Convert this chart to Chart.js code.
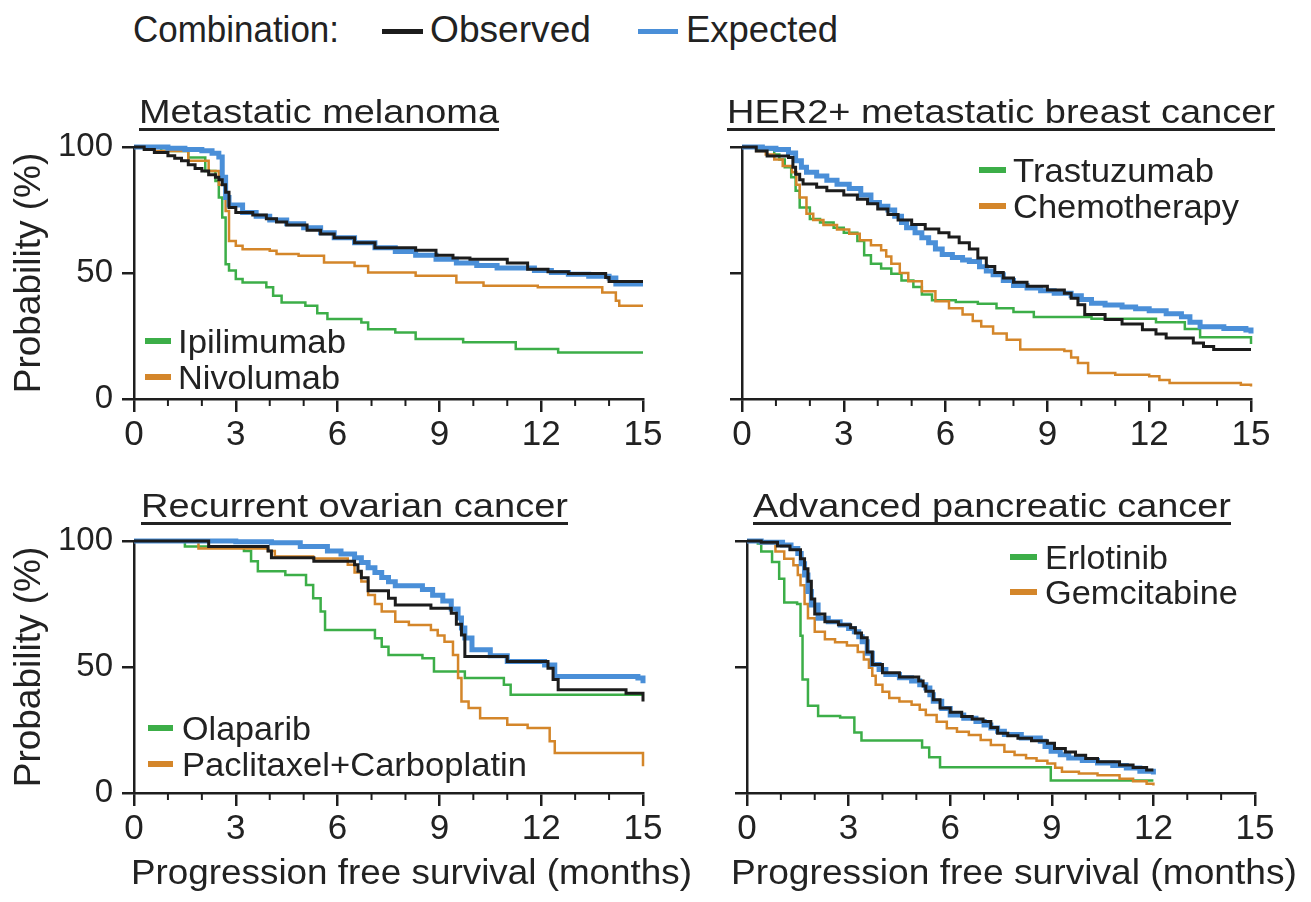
<!DOCTYPE html>
<html lang="en">
<head>
  <meta charset="UTF-8" />
  <title>Progression free survival – observed vs expected combinations</title>
  <script src="https://cdn.jsdelivr.net/npm/chart.js"></script>
  <style>
    body {
      margin: 0;
      background: #fff;
      font-family: 'Liberation Sans', Arial, sans-serif;
      color: #222;
    }
    #page {
      position: relative;
      width: 1311px;
      height: 902px;
      overflow: hidden;
    }
    canvas { position: absolute; }
    .txt {
      position: absolute;
      white-space: nowrap;
      line-height: 1;
      transform-origin: 0 0;
      z-index: 2;
    }
    .title {
      text-decoration: underline;
      text-decoration-thickness: 2.5px;
      text-underline-offset: 5px;
      text-decoration-skip-ink: none;
    }
    .swatch { position: absolute; height: 5px; z-index: 2; }
    .ytitle {
      position: absolute;
      white-space: nowrap;
      line-height: 1;
      font-size: 37px;
      transform: translate(-50%, -50%) rotate(-90deg);
      z-index: 2;
    }
  </style>
</head>
<body>
  <div id="page"></div>

  <script>
    // ---- data: [months, probability %] ----
    const melanomaObserved = [[0,100],[0.3,99],[0.6,97.8],[1.0,96.5],[1.2,95.5],[1.4,94.5],[1.6,93],[1.8,91.5],[2.0,90.5],[2.2,89],[2.4,88],[2.5,87],[2.6,85],[2.7,82],[2.8,76],[3.0,74],[3.5,73],[3.9,71.5],[4.2,70.2],[4.5,69],[5.1,67],[5.5,65.5],[5.9,64],[6.5,62],[7.1,60],[8.3,59],[8.9,57],[9.4,56],[9.9,55.5],[11.0,54],[11.6,51.5],[12.2,50.5],[12.8,49.8],[13.9,48.2],[14.0,46.6],[15,46.6]];
    const melanomaExpected = [[0,100],[1.0,99.5],[1.5,99],[2.0,98.5],[2.3,97.5],[2.5,96],[2.6,88],[2.7,80],[2.8,77],[3.2,74],[3.6,72.5],[4.0,71],[4.5,69.5],[5.0,68],[5.5,66],[5.9,64],[6.5,62],[7.1,60],[7.7,58.5],[8.3,57],[8.9,55.5],[9.5,54],[10.1,53],[10.7,52],[11.8,51],[12.3,50.2],[12.8,49.5],[13.4,48.7],[14.0,48],[14.2,45.6],[15,45.6]];
    const melanomaIpilimumab = [[0,100],[0.8,98.4],[1.6,95.8],[2.1,90.5],[2.4,86.5],[2.5,80],[2.6,72],[2.7,53.5],[2.8,51],[3.0,47.6],[3.2,46.2],[3.9,44.3],[4.1,41],[4.35,38.3],[5.05,37],[5.4,34],[5.7,31.7],[6.7,30.4],[6.9,27.7],[7.7,26.4],[8.3,23.8],[9.7,22.5],[11.25,19.8],[12.5,18.5],[15,18.5]];
    const melanomaNivolumab = [[0,100],[0.6,98.4],[1.6,94.5],[2.2,90.5],[2.5,85],[2.7,74.6],[2.8,62.7],[3.0,60.8],[3.2,59.4],[4.0,58.8],[4.2,57.5],[4.85,56.8],[5.6,54.2],[6.5,52.8],[6.9,50.2],[8.3,48.9],[9.5,46.2],[10.3,44.9],[11.9,44.3],[13.8,42.3],[14.2,39],[14.3,37],[15,37]];

    const her2Observed = [[0,100],[0.42,98.4],[0.74,96.4],[1.37,95.8],[1.5,92],[1.58,89.2],[1.7,87],[1.8,85.3],[2.2,84],[2.5,82.6],[3.0,81],[3.4,79.3],[3.7,77.5],[4.0,75.4],[4.3,73.2],[4.6,71],[5.0,69.2],[5.4,67.5],[5.8,66],[6.1,64.3],[6.4,62],[6.7,59.5],[6.95,56],[7.2,52.6],[7.45,50.2],[7.7,48],[8.0,46.3],[8.4,44.7],[9.0,43.3],[9.5,42],[9.7,40],[9.9,37.4],[10.1,33.5],[10.7,31.5],[11.2,29.8],[11.8,27.5],[12.2,25.8],[12.5,24.2],[13.3,22.2],[13.6,20.8],[13.9,19.6],[15,19.6]];
    const her2Expected = [[0,100],[0.6,99.5],[1.0,99],[1.37,97.6],[1.58,94.5],[1.75,92],[1.9,90],[2.2,88.5],[2.5,86.8],[2.8,85.2],[3.16,83.5],[3.5,81],[3.8,78],[4.05,76.5],[4.3,75],[4.5,72.5],[4.7,70],[4.85,68],[5.1,66],[5.3,64],[5.5,62],[5.7,59.5],[5.9,57.3],[6.2,56.2],[6.5,55.2],[6.7,54.6],[7.0,52.5],[7.2,50.8],[7.4,49.3],[7.7,47],[8.0,45],[8.4,44],[8.8,43],[9.2,42],[9.7,41],[10.0,39.5],[10.3,38],[10.7,37.3],[11.2,36.5],[11.6,35.8],[12.0,35],[12.5,33.8],[12.95,32.6],[13.2,30.5],[13.5,28.7],[14.2,28],[14.85,27.4],[15,26]];
    const her2Trastuzumab = [[0,100],[0.5,99],[0.95,97],[1.1,95],[1.26,92],[1.45,88],[1.58,82.6],[1.7,76],[2.0,71.4],[2.3,70],[2.7,68],[3.0,66],[3.4,62.7],[3.6,57],[3.8,53.7],[4.1,51.8],[4.4,49.7],[4.7,47],[5.05,44.4],[5.3,41.5],[5.6,39.2],[6.3,38.5],[6.95,37.8],[7.5,36],[8.0,34.5],[8.6,32.5],[10.3,31.8],[12.2,30.5],[13.05,27.8],[13.5,24.5],[14.85,24.5],[15,21.8]];
    const her2Chemotherapy = [[0,100],[0.42,98.4],[0.7,97],[0.95,95],[1.2,92.5],[1.47,90],[1.6,85],[1.7,80],[1.9,73.5],[2.1,71],[2.4,69],[2.8,67.3],[3.16,65.6],[3.47,63],[3.8,61],[4.1,59],[4.25,56.5],[4.4,53.7],[4.65,50],[4.9,46.7],[5.3,42.8],[5.7,38.8],[6.1,36],[6.5,33.5],[6.8,31],[7.05,28.8],[7.4,26],[7.8,23.5],[8.2,19.6],[9.5,19],[9.7,16.5],[9.9,14.3],[10.2,10.3],[11.0,9.6],[12.0,9],[12.3,7.5],[12.6,6.3],[14.7,5.7],[15,5]];

    const ovarianObserved = [[0,100],[2.2,97.8],[3.95,96],[4.05,93.4],[5.3,92],[6.5,90.6],[6.6,88],[6.7,85.4],[6.9,80.3],[7.5,77.3],[7.7,74.6],[8.75,73.3],[9.35,71.3],[9.5,67],[9.65,62.7],[9.75,54.2],[11.0,52.2],[12.2,49.5],[12.35,45],[12.5,41],[14.5,39.6],[15,36.3]];
    const ovarianExpected = [[0,100],[3.0,99.7],[4.05,99.3],[4.9,97.8],[5.7,96],[6.1,94.8],[6.5,93.4],[6.7,91.5],[6.9,89.4],[7.1,87.5],[7.3,85.5],[7.5,83.8],[7.7,82.2],[8.5,80.8],[8.8,78.5],[9.1,76.2],[9.35,73],[9.55,69.4],[9.65,65.5],[9.75,61.5],[9.96,56.8],[10.5,54.5],[11.0,52.2],[12.1,50.8],[12.4,46.2],[14.85,45.6],[15,43.6]];
    const ovarianOlaparib = [[0,100],[1.5,97.8],[3.24,96],[3.45,92],[3.65,88],[4.46,86.5],[5.07,82.5],[5.28,77.3],[5.5,72],[5.63,64.7],[7.1,61.4],[7.3,58],[7.5,54.8],[8.5,53.5],[8.84,48.2],[9.75,45.6],[10.9,43],[11.1,39],[15,39]];
    const ovarianPaclitaxel = [[0,100],[1.9,97],[3.95,96],[4.15,93.8],[5.28,93.1],[6.3,90.6],[6.5,87.5],[6.7,83.9],[6.9,78.6],[7.1,75],[7.3,72],[7.7,68],[8.1,66.7],[8.75,64.7],[8.95,62.5],[9.15,60],[9.4,54.8],[9.55,45.6],[9.65,36.3],[9.86,33.7],[10.2,29.7],[11.0,27.1],[11.6,25.8],[12.25,20.5],[12.4,15.9],[14.85,15.9],[15,10.6]];

    const pancreaticObserved = [[0,100],[0.42,99.5],[0.9,98],[1.27,96.5],[1.58,93],[1.7,89],[1.8,84],[1.9,77],[2.0,71],[2.3,68],[2.7,66.8],[3.06,65.6],[3.2,63.5],[3.38,61.6],[3.55,56],[3.7,51],[4.0,47.7],[4.5,46],[5.07,44.4],[5.2,42.5],[5.28,40.4],[5.5,37],[5.7,33.7],[6.0,32],[6.34,30.4],[6.65,29.4],[6.97,28.4],[7.2,26],[7.4,23.7],[7.7,22.7],[8.0,21.7],[8.4,20.7],[8.87,19.7],[9.08,17.7],[9.4,16.3],[9.7,15],[10.0,13.7],[10.35,12.4],[11.0,11.1],[11.4,10.1],[11.8,9.1],[12,9.1]];
    const pancreaticExpected = [[0,100],[0.42,99.5],[1.05,98.4],[1.3,97],[1.5,95],[1.6,91],[1.7,86.5],[1.8,80],[1.9,74.6],[2.1,69.3],[2.4,68],[2.75,66.7],[3.0,65.3],[3.17,64],[3.3,62],[3.4,60],[3.55,55.5],[3.7,51],[3.9,49],[4.1,47],[4.5,45.7],[4.86,44.4],[5.1,43],[5.28,41.7],[5.4,39],[5.5,36.4],[5.75,33.5],[6.0,31],[6.4,29.7],[6.76,28.4],[7.0,27],[7.2,25.8],[7.4,24.5],[7.6,23.2],[8.1,21.8],[8.66,20.5],[8.8,18.5],[8.98,16.6],[9.25,15.2],[9.5,13.9],[9.9,12.9],[10.35,11.9],[10.8,10.9],[11.2,9.9],[11.6,8.6],[12,7.3]];
    const pancreaticErlotinib = [[0,100],[0.32,99],[0.42,95.8],[0.74,91.7],[0.95,85],[1.1,75.6],[1.48,75],[1.58,62.4],[1.64,45],[1.8,34.6],[2.1,30.6],[2.75,30],[3.17,24],[3.38,20.8],[5.17,18.1],[5.38,14.2],[5.7,10.2],[8.97,5],[12,5]];
    const pancreaticGemcitabine = [[0,100],[0.42,99],[0.84,95.8],[1.1,93],[1.37,90.4],[1.5,86.5],[1.58,82.4],[1.7,75],[1.8,69.3],[2.0,64],[2.3,61],[2.6,59.8],[2.95,58.5],[3.27,56],[3.45,53],[3.6,49.7],[3.7,46.5],[3.8,43],[4.0,40.2],[4.2,37.7],[4.5,36.3],[4.86,35],[5.1,33],[5.28,31],[5.6,28.3],[5.9,25.7],[6.2,24.3],[6.55,23],[6.9,21],[7.2,19],[7.6,16.4],[7.9,15.1],[8.24,13.8],[8.55,12.8],[8.87,11.7],[9.1,10],[9.3,8.4],[9.8,7.7],[10.35,7],[11.0,5.7],[11.4,4.7],[11.8,3.7],[12,3]];

    // tick values
    const monthTicks = [0, 3, 6, 9, 12, 15];
    const minorMonths = [1, 2, 4, 5, 7, 8, 10, 11, 13, 14];
    const probTicks = [0, 50, 100];

    // text
    const panelTitles = ['Metastatic melanoma', 'HER2+ metastatic breast cancer', 'Recurrent ovarian cancer', 'Advanced pancreatic cancer'];
    const drugNames = [['Ipilimumab', 'Nivolumab'], ['Trastuzumab', 'Chemotherapy'], ['Olaparib', 'Paclitaxel+Carboplatin'], ['Erlotinib', 'Gemcitabine']];

    // ---- styles ----
    const FONT = "'Liberation Sans', Arial, sans-serif";
    const textColor = '#222';
    const axisColor = '#1e1e1e';
    const colObserved = '#1c1c1c';
    const colExpected = '#4a8fd8';
    const colGreen = '#3cae48';
    const colOrange = '#d4862a';

    const page = document.getElementById('page');

    function addText(str, x, baseline, size, width, cls) {
      const el = document.createElement('div');
      el.className = 'txt' + (cls ? ' ' + cls : '');
      el.textContent = str;
      el.style.fontSize = size + 'px';
      el.style.left = x + 'px';
      el.style.top = (baseline - 0.8465 * size) + 'px';
      page.appendChild(el);
      if (width) {
        const natural = el.getBoundingClientRect().width;
        el.style.transform = 'scaleX(' + (width / natural) + ')';
      }
      return el;
    }

    function addSwatch(x, yMid, w, color, h) {
      const el = document.createElement('div');
      el.className = 'swatch';
      el.style.left = x + 'px';
      el.style.top = (yMid - (h || 5) / 2) + 'px';
      el.style.width = w + 'px';
      el.style.height = (h || 5) + 'px';
      el.style.background = color;
      page.appendChild(el);
    }

    function addYTitle(cx, cy) {
      const el = document.createElement('div');
      el.className = 'ytitle';
      el.textContent = 'Probability (%)';
      el.style.left = cx + 'px';
      el.style.top = cy + 'px';
      page.appendChild(el);
    }

    function ds(points, color, w) {
      return {
        data: points.map(([x, y]) => ({ x, y })),
        borderColor: color,
        borderWidth: w,
        pointRadius: 0,
        stepped: true,
        fill: false,
        clip: false,
        tension: 0
      };
    }

    // small unlabelled month ticks
    const minorTicks = {
      id: 'minorTicks',
      afterDraw(chart) {
        const xs = chart.scales.x;
        const ctx = chart.ctx;
        const y0 = chart.chartArea.bottom;
        ctx.save();
        ctx.strokeStyle = axisColor;
        ctx.lineWidth = 2;
        minorMonths.forEach(m => {
          const px = xs.getPixelForValue(m);
          ctx.beginPath();
          ctx.moveTo(px, y0);
          ctx.lineTo(px, y0 + 7);
          ctx.stroke();
        });
        ctx.restore();
      }
    };

    // canvas top + 30px padding = y of the 100% line (147 / 541)
    const panels = [
      { left: 0,   top: 117, width: 680, height: 343, yWidth: 134, padRight: 37, yLabels: true,
        series: [melanomaObserved, melanomaExpected, melanomaNivolumab, melanomaIpilimumab] },
      { left: 680, top: 117, width: 631, height: 343, yWidth: 62,  padRight: 60, yLabels: false,
        series: [her2Observed, her2Expected, her2Chemotherapy, her2Trastuzumab] },
      { left: 0,   top: 511, width: 680, height: 343, yWidth: 134, padRight: 37, yLabels: true,
        series: [ovarianObserved, ovarianExpected, ovarianPaclitaxel, ovarianOlaparib] },
      { left: 680, top: 511, width: 631, height: 343, yWidth: 67,  padRight: 56, yLabels: false,
        series: [pancreaticObserved, pancreaticExpected, pancreaticGemcitabine, pancreaticErlotinib] }
    ];

    panels.forEach(p => {
      const cv = document.createElement('canvas');
      cv.width = p.width;
      cv.height = p.height;
      cv.style.left = p.left + 'px';
      cv.style.top = p.top + 'px';
      page.appendChild(cv);

      new Chart(cv, {
        type: 'line',
        data: {
          datasets: [
            ds(p.series[0], colObserved, 3),
            ds(p.series[1], colExpected, 5),
            ds(p.series[2], colOrange, 2.5),
            ds(p.series[3], colGreen, 2.5)
          ]
        },
        options: {
          responsive: false,
          animation: false,
          devicePixelRatio: 1,
          layout: { padding: { top: 30, right: p.padRight, left: 0, bottom: 0 } },
          plugins: { legend: { display: false }, tooltip: { enabled: false } },
          scales: {
            x: {
              type: 'linear',
              min: 0,
              max: 15,
              afterBuildTicks: s => { s.ticks = monthTicks.map(v => ({ value: v })); },
              afterFit: s => { s.height = 61; },
              border: { color: axisColor, width: 2.5 },
              grid: { drawOnChartArea: false, tickLength: 13, color: axisColor, lineWidth: 2.5 },
              ticks: { font: { family: FONT, size: 35 }, color: textColor, padding: 2, maxRotation: 0, autoSkip: false }
            },
            y: {
              min: 0,
              max: 100,
              afterBuildTicks: s => { s.ticks = probTicks.map(v => ({ value: v })); },
              afterFit: s => { s.width = p.yWidth; },
              border: { color: axisColor, width: 2.5 },
              grid: { drawOnChartArea: false, tickLength: 12, color: axisColor, lineWidth: 2.5 },
              ticks: { display: p.yLabels, font: { family: FONT, size: 33 }, color: textColor, padding: 9 }
            }
          }
        },
        plugins: [minorTicks]
      });
    });

    // top legend
    addText('Combination:', 133, 42, 36, 206);
    addSwatch(382, 31, 41, colObserved);
    addText('Observed', 430, 42, 36, 161);
    addSwatch(638, 31, 40, colExpected);
    addText('Expected', 686, 42, 36, 152);

    // panel titles
    addText(panelTitles[0], 139, 123, 34, 360, 'title');
    addText(panelTitles[1], 727, 123, 34, 548, 'title');
    addText(panelTitles[2], 141, 517, 34, 427, 'title');
    addText(panelTitles[3], 753, 517, 34, 478, 'title');

    // panel legends
    addSwatch(145, 341, 26, colGreen, 6);
    addText(drugNames[0][0], 178, 353, 34, 168);
    addSwatch(145, 377, 26, colOrange, 6);
    addText(drugNames[0][1], 178, 389, 34, 162);

    addSwatch(979, 170, 27, colGreen, 6);
    addText(drugNames[1][0], 1013, 182, 34, 201);
    addSwatch(979, 206, 27, colOrange, 6);
    addText(drugNames[1][1], 1013, 218, 34, 226);

    addSwatch(148, 728, 25, colGreen, 6);
    addText(drugNames[2][0], 182, 740, 34, 129);
    addSwatch(148, 764, 25, colOrange, 6);
    addText(drugNames[2][1], 182, 776, 34, 345);

    addSwatch(1010, 557, 27, colGreen, 6);
    addText(drugNames[3][0], 1045, 569, 34, 123);
    addSwatch(1010, 592, 27, colOrange, 6);
    addText(drugNames[3][1], 1045, 604, 34, 193);

    // axis titles
    addYTitle(27, 273);
    addYTitle(27, 667);
    addText('Progression free survival (months)', 131, 884, 35, 561);
    addText('Progression free survival (months)', 731, 884, 35, 566);
  </script>
</body>
</html>
